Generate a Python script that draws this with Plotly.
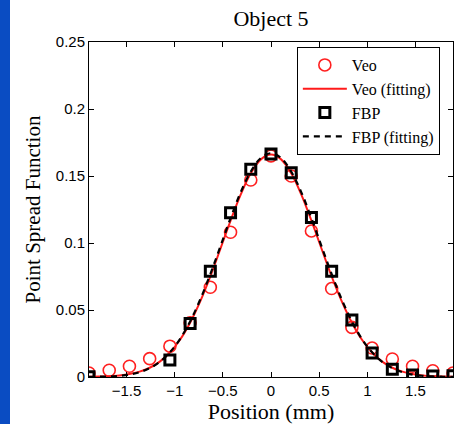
import plotly.graph_objects as go

# Sample positions (mm)
position = [-1.89, -1.68, -1.47, -1.26, -1.05, -0.84, -0.63, -0.42, -0.21, 0.0,
            0.21, 0.42, 0.63, 0.84, 1.05, 1.26, 1.47, 1.68, 1.89]

# Measured PSF samples
veo = [0.003, 0.005, 0.008, 0.0137, 0.023, 0.0405, 0.067, 0.108, 0.147, 0.165,
       0.150, 0.109, 0.066, 0.037, 0.0216, 0.0134, 0.008, 0.0047, 0.003]
fbp = [0.0002, None, None, None, 0.0127, 0.040, 0.079, 0.1225, 0.155, 0.1664,
       0.1525, 0.119, 0.079, 0.0425, 0.018, 0.0057, 0.0015, 0.0007, 0.001]

# Fitted curves, sampled on a finer grid
fit_pos = [-1.89, -1.785, -1.68, -1.575, -1.47, -1.365, -1.26, -1.155, -1.05, -0.945,
           -0.84, -0.735, -0.63, -0.525, -0.42, -0.315, -0.21, -0.105, 0.0,
           0.105, 0.21, 0.315, 0.42, 0.525, 0.63, 0.735, 0.84, 0.945,
           1.05, 1.155, 1.26, 1.365, 1.47, 1.575, 1.68, 1.785, 1.89]
veo_fit = [0.0001, 0.0003, 0.0006, 0.0012, 0.0022, 0.0040, 0.0069, 0.0115, 0.0183, 0.0278,
           0.0405, 0.0564, 0.0750, 0.0957, 0.1166, 0.1361, 0.1520, 0.1624, 0.1660,
           0.1624, 0.1520, 0.1361, 0.1166, 0.0957, 0.0750, 0.0564, 0.0405, 0.0278,
           0.0183, 0.0115, 0.0069, 0.0040, 0.0022, 0.0012, 0.0006, 0.0003, 0.0001]
fbp_fit = [0.0001, 0.0002, 0.0004, 0.0009, 0.0018, 0.0036, 0.0066, 0.0113, 0.0184, 0.0283,
           0.0415, 0.0578, 0.0768, 0.0975, 0.1185, 0.1378, 0.1533, 0.1634, 0.1670,
           0.1634, 0.1533, 0.1378, 0.1185, 0.0975, 0.0768, 0.0578, 0.0415, 0.0283,
           0.0184, 0.0113, 0.0066, 0.0036, 0.0018, 0.0009, 0.0004, 0.0002, 0.0001]

x_ticks = [-1.5, -1, -0.5, 0, 0.5, 1, 1.5]
y_ticks = [0, 0.05, 0.1, 0.15, 0.2, 0.25]

serif = "Liberation Serif, Times New Roman, serif"
sans = "Liberation Sans, Arial, sans-serif"

fig = go.Figure()
fig.add_trace(go.Scatter(
    x=position, y=veo, mode="markers", name="Veo",
    marker=dict(symbol="circle-open", size=12, color="#ff2020",
                line=dict(width=1.6, color="#ff2020"))))
fig.add_trace(go.Scatter(
    x=fit_pos, y=veo_fit, mode="lines", name="Veo (fitting)",
    line=dict(color="#ff1a1a", width=2, shape="spline")))
fig.add_trace(go.Scatter(
    x=position, y=fbp, mode="markers", name="FBP",
    marker=dict(symbol="square-open", size=10, color="black",
                line=dict(width=3, color="black"))))
fig.add_trace(go.Scatter(
    x=fit_pos, y=fbp_fit, mode="lines", name="FBP (fitting)",
    line=dict(color="black", width=2.2, dash="6px,5px", shape="spline")))

axis_common = dict(
    showline=True, linecolor="black", linewidth=1, mirror="ticks",
    ticks="inside", ticklen=5, tickcolor="black", tickwidth=1,
    showgrid=False, zeroline=False,
    tickfont=dict(family=sans, size=15, color="black"),
)

fig.update_layout(
    width=455, height=424,
    margin=dict(l=89, r=2, t=42, b=47),
    paper_bgcolor="white", plot_bgcolor="white",
    title=dict(text="Object 5", x=0.5, xanchor="center", xref="paper",
               y=0.957, yanchor="middle",
               font=dict(family=serif, size=22, color="black")),
    xaxis=dict(range=[-1.89, 1.89], tickvals=x_ticks,
               title=dict(text="Position (mm)", standoff=0,
                          font=dict(family=serif, size=22, color="black")),
               **axis_common),
    yaxis=dict(range=[0, 0.25], tickvals=y_ticks,
               ticktext=["0", "0.05", "0.1", "0.15", "0.2", "0.25"],
               title=dict(text="Point Spread Function", standoff=9,
                          font=dict(family=serif, size=21, color="black")),
               **axis_common),
    legend=dict(x=0.571, y=0.985, xanchor="left", yanchor="top",
                bgcolor="white", bordercolor="black", borderwidth=1,
                font=dict(family=serif, size=16, color="black"),
                itemwidth=44, tracegroupgap=0),
    showlegend=True,
)

# Blue band along the left edge of the page
fig.add_shape(type="rect", xref="paper", yref="paper",
              x0=-89 / 364, x1=-79 / 364, y0=-47 / 335, y1=377 / 335,
              fillcolor="#0a4cc2", line=dict(width=0), layer="above")

fig.write_html("out.html")
